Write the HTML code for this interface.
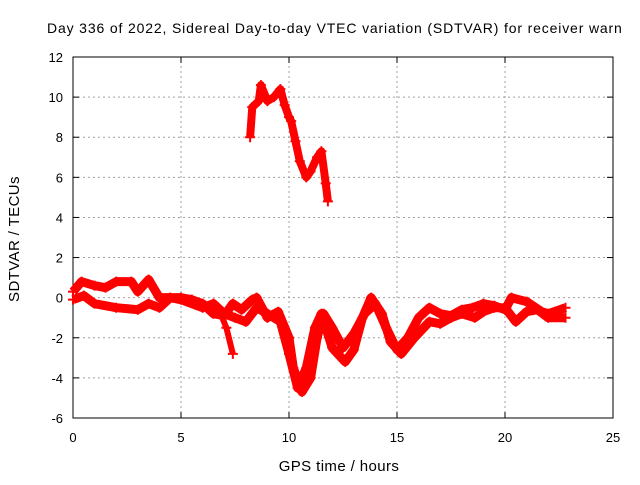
<!DOCTYPE html>
<html><head><meta charset="utf-8"><style>
body{margin:0;background:#fff;}
svg text{font-family:"Liberation Sans",sans-serif;font-size:13px;fill:#000;}
</style></head><body>
<svg width="640" height="480" viewBox="0 0 640 480">
<g id="grid"></g>
<g id="axes"></g>
<g id="series"></g>
<text x="47" y="33" style="font-size:14px;letter-spacing:0.85px">Day 336 of 2022, Sidereal Day-to-day VTEC variation (SDTVAR) for receiver warn</text>
<text x="339" y="471" text-anchor="middle" style="font-size:15px;letter-spacing:0.4px">GPS time / hours</text>
<text x="19" y="239" text-anchor="middle" style="font-size:15px;letter-spacing:0.4px" transform="rotate(-90 19 239)">SDTVAR / TECUs</text>
</svg>
<script>
const xTicks=[0,5,10,15,20,25];
const yTicks=[-6,-4,-2,0,2,4,6,8,10,12];
const seriesUpperBand=[[0,0.3],[0.4,0.8],[1,0.6],[1.5,0.5],[2,0.8],[2.7,0.8],[3,0.3],[3.5,0.9],[4,0],[5,0],[5.5,-0.1],[6,-0.3],[6.5,-0.8],[7,-0.9],[7.4,-0.3],[7.8,-0.6],[8.3,-0.1],[8.5,0],[9,-1],[9.5,-0.7],[10,-2],[10.2,-3.5],[10.6,-4.7],[11,-4],[11.3,-2],[11.6,-0.8],[12,-1.5],[12.5,-2.5],[13,-1.8],[13.5,-0.8],[14,-0.3],[14.5,-1.5],[15,-2.6],[15.5,-2],[16,-1],[16.5,-0.5],[17,-0.8],[17.5,-0.9],[18,-0.6],[18.5,-0.5],[19,-0.3],[19.5,-0.4],[20,-0.6],[20.3,0],[21,-0.2],[21.7,-0.7],[22,-0.8],[22.8,-0.5]];
const seriesLowerBand=[[0,-0.1],[0.5,0.1],[1,-0.3],[2,-0.5],[3,-0.6],[3.5,-0.3],[4,-0.5],[4.5,0],[5,-0.1],[6,-0.5],[6.5,-0.3],[7,-0.8],[7.5,-1],[8,-1.2],[8.5,-0.5],[9,-0.8],[9.6,-1.2],[10,-2.8],[10.4,-4.5],[10.8,-3.5],[11.2,-1.5],[11.5,-0.8],[12,-2.5],[12.6,-3.2],[13,-2.6],[13.4,-1],[13.8,0],[14.3,-0.8],[14.7,-2.2],[15.2,-2.8],[15.8,-2],[16.5,-1.2],[17,-1.3],[17.5,-1],[18,-0.8],[18.6,-1],[19,-0.7],[19.5,-0.5],[20,-0.5],[20.5,-1.2],[21,-0.7],[21.5,-0.6],[22,-1],[22.8,-1]];
const seriesDrop=[[6.8,-0.7],[7.1,-1.5],[7.4,-2.8]];
const seriesHigh=[[8.2,8],[8.3,9.5],[8.6,9.8],[8.7,10.6],[9,9.8],[9.3,10],[9.6,10.4],[9.8,9.6],[10,9],[10.1,8.8],[10.3,7.8],[10.5,6.8],[10.8,6],[11,6.3],[11.3,7],[11.5,7.3],[11.7,5.7],[11.8,4.8]];
const X0=73,X1=613,Y0=418,Y1=57;
const sx=v=>X0+(v-0)/25*(X1-X0);
const sy=v=>Y0-(v+6)/18*(Y0-Y1);
const NS="http://www.w3.org/2000/svg";
function mk(t,a,p){const e=document.createElementNS(NS,t);for(const k in a)e.setAttribute(k,a[k]);p.appendChild(e);return e;}
const grid=document.getElementById('grid'),axes=document.getElementById('axes'),ser=document.getElementById('series');
xTicks.forEach(t=>{const x=sx(t);
 if(t>0&&t<25){const l=mk('line',{x1:x,y1:Y0,x2:x,y2:Y1,stroke:'#a0a0a0','stroke-dasharray':'2,3'},grid);
 
 }
 mk('line',{x1:x,y1:Y0,x2:x,y2:Y0-6,stroke:'#000'},axes);
 mk('line',{x1:x,y1:Y1,x2:x,y2:Y1+6,stroke:'#000'},axes);
 const tx=mk('text',{x:x,y:Y0+24,'text-anchor':'middle'},axes);tx.textContent=t;
 
 
});
yTicks.forEach(t=>{const y=sy(t);
 if(t>-6&&t<12){const l=mk('line',{x1:X0,y1:y,x2:X1,y2:y,stroke:'#a0a0a0','stroke-dasharray':'2,3'},grid);
 
 }
 mk('line',{x1:X0,y1:y,x2:X0+6,y2:y,stroke:'#000'},axes);
 mk('line',{x1:X1,y1:y,x2:X1-6,y2:y,stroke:'#000'},axes);
 const tx=mk('text',{x:X0-10,y:y+5,'text-anchor':'end'},axes);tx.textContent=t;
 
 
});
const fr=mk('rect',{x:X0,y:Y1,width:X1-X0,height:Y0-Y1,fill:'none',stroke:'#000'},axes);


function draw(data,name,w){
 const pl=mk('polyline',{points:data.map(d=>sx(d[0])+','+sy(d[1])).join(' '),fill:'none',stroke:'#ff0000','stroke-width':w,'stroke-linejoin':'round'},ser);
 
 
 data.forEach(d=>{const x=sx(d[0]),y=sy(d[1]);
  const p=mk('path',{d:`M${x-5},${y}h10M${x},${y-5}v10`,stroke:'#ff0000','stroke-width':2},ser);
  
  });
}
draw(seriesUpperBand,'series-upper-band',9);
draw(seriesLowerBand,'series-lower-band',9);
draw(seriesDrop,'series-drop',6);
draw(seriesHigh,'series-high',8);
</script>
</body></html>
